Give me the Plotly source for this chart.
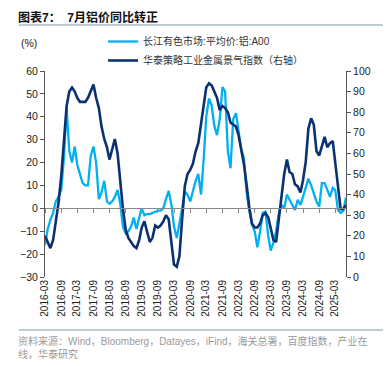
import pandas as pd
import plotly.graph_objects as go

months = pd.date_range("2016-03-01", periods=113, freq="MS")

# 长江有色市场:平均价:铝:A00 同比 (%), left axis
alu_yoy = [
    -16, -9, -5, -2, 3, 5, 8, 22, 44, 25,
    20, 27, 19, 15, 11, 10, 10, 23, 27, 20,
    4, 7, 12, 3, 2, 3, 5, 8, 2, -8,
    -11, -10, -8, -4, -9, -4, 0, -3, -2.5, -2.5,
    -2, -1.5, -1, -1, 0, 4, 7.6, 1.5, -8, -13,
    -7, 0, 7.3, 6, 3, 8, 12, 15, 6, 22,
    40, 48, 45, 36, 32, 39, 53, 51, 25, 17.5,
    39, 41.6, 35, 26, 22, 7, -1, -7, -10, -17,
    -10, -2, -1.5, -12, -18.5, -15, -10, -2, 1.5, 0,
    6, 3.7, 1.5, -0.7, 3.7, 1.5, 5, 9, 13, 10,
    6, 3, 0.8, 11, 11, 8, 5, 9, 8, -0.7,
    -2, -1, 4.7,
]

# 华泰策略工业金属景气指数 (right axis)
metal_index = [
    20, 17, 14, 18, 26, 36, 49, 65, 83, 90,
    92, 90, 87, 85, 85, 85, 87, 90, 93.5, 87,
    82, 73, 67, 63, 57, 62, 67, 60, 45, 33,
    23, 19, 17, 15, 14, 18, 24, 27, 22, 17,
    19, 25, 24, 25, 27, 30, 28, 16, 6, 5,
    10, 28, 44, 50, 52, 55, 61, 65, 74, 84,
    92, 94, 93, 90, 87, 81, 83, 82, 80, 75,
    74, 73, 69, 62, 55, 45, 34, 26, 24, 24,
    26, 30, 31, 29, 24, 18, 17, 28, 38, 50,
    57, 51, 50, 45, 44, 41, 47, 56, 72, 77,
    74, 61, 59, 63, 68, 63, 65, 66, 55, 43,
    33, 33, 35,
]

name_alu = "长江有色市场:平均价:铝:A00"
name_idx = "华泰策略工业金属景气指数（右轴）"

LIGHT = "#00B0F0"
DARK = "#0B3170"
FONT = "Arial, 'Liberation Sans', 'Noto Sans CJK SC'"

# page body has an 8px default margin; work in page pixels and subtract it
O = 8
W, H = 391 - O, 366 - O
PL, PR, PT, PB = 35, 346, 71, 277          # plot area in page pixels
L, R, T, B = PL - O, W - (PR - O), PT - O, H - (PB - O)
PW, PH = W - L - R, H - T - B

def ypix(p):
    return 1 - (p - O - T) / PH

def xpix(p):
    return (p - O - L) / PW

fig = go.Figure()
fig.add_trace(go.Scatter(x=months, y=alu_yoy, name=name_alu, mode="lines",
                         line=dict(color=LIGHT, width=2.3), yaxis="y", xaxis="x"))
fig.add_trace(go.Scatter(x=months, y=metal_index, name=name_idx, mode="lines",
                         line=dict(color=DARK, width=2.6), yaxis="y2", xaxis="x"))

xr = [months[0], months[-1]]
fig.update_layout(
    width=W, height=H,
    margin=dict(l=L, r=R, t=T, b=B),
    paper_bgcolor="white", plot_bgcolor="white",
    font=dict(family=FONT, size=10.5, color="#222222"),
    showlegend=True,
    legend=dict(x=xpix(95), y=ypix(27),
                xanchor="left", yanchor="top",
                bgcolor="rgba(0,0,0,0)", font=dict(size=10, color="#333333"),
                itemwidth=30, tracegroupgap=3),
    xaxis=dict(range=xr, type="date", dtick="M6", tick0="2016-03-01",
               tickformat="%Y-%m", tickangle=-90, showgrid=False,
               showline=False, ticks="", zeroline=False,
               tickfont=dict(size=10, color="#222222"), anchor="y"),
    xaxis2=dict(range=xr, type="date", dtick="M6", tick0="2016-03-01",
                overlaying="x", anchor="free", position=1 / 3,
                showticklabels=False, showgrid=False, showline=True,
                linecolor="#888888", linewidth=1.2,
                ticks="outside", ticklen=4, tickcolor="#888888", zeroline=False),
    yaxis=dict(range=[-30, 60], dtick=10, showgrid=False, zeroline=False,
               showline=True, linecolor="#555555", linewidth=1,
               ticks="outside", ticklen=4, tickcolor="#555555",
               tickfont=dict(size=10.5, color="#222222")),
    yaxis2=dict(range=[0, 100], dtick=10, overlaying="y", side="right",
                showgrid=False, zeroline=False, showline=True,
                linecolor="#555555", linewidth=1,
                ticks="outside", ticklen=4, tickcolor="#555555",
                tickfont=dict(size=10.5, color="#222222")),
)
# dummy trace to display xaxis2 (zero line with ticks)
fig.add_trace(go.Scatter(x=[months[0]], y=[None], xaxis="x2", yaxis="y",
                         showlegend=False, hoverinfo="skip"))

fig.add_annotation(xref="paper", yref="paper", x=xpix(5), y=ypix(17),
                   xanchor="left", yanchor="middle",
                   text="<b>图表7：  7月铝价同比转正</b>", showarrow=False,
                   font=dict(size=12, color="#111111", family=FONT))
fig.add_annotation(xref="paper", yref="paper", x=xpix(8), y=ypix(43),
                   xanchor="left", yanchor="middle",
                   text="(%)", showarrow=False, font=dict(size=10.5, color="#222222"))
src1 = "资料来源：Wind，Bloomberg，Datayes，iFind，海关总署，百度指数，产业在"
src2 = "线，华泰研究"
for txt, yy in ((src1, 341), (src2, 354)):
    fig.add_annotation(xref="paper", yref="paper", x=xpix(5), y=ypix(yy),
                       xanchor="left", yanchor="middle",
                       text=txt, showarrow=False, align="left",
                       font=dict(size=10, color="#9a9a9a", family=FONT))

for yy in (25, 330):
    fig.add_shape(type="line", xref="paper", yref="paper",
                  x0=xpix(8), x1=xpix(387), y0=ypix(yy), y1=ypix(yy),
                  line=dict(color="#8497B0", width=1.2))

fig.write_html("out.html")
